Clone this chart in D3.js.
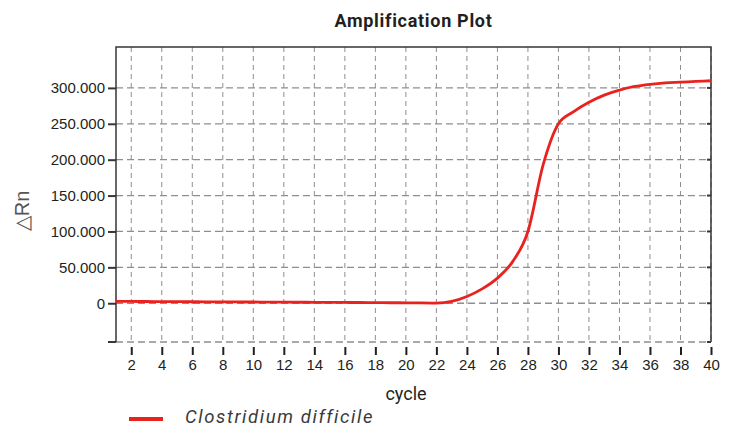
<!DOCTYPE html>
<html>
<head>
<meta charset="utf-8">
<script src="https://cdn.jsdelivr.net/npm/d3@7"></script>
<style>
  body { margin: 0; background: #fff; }
  svg text { font-family: "Liberation Sans", Arial, sans-serif; }
</style>
</head>
<body>
<div id="chart"></div>
<script>
// cycle numbers and delta Rn
var cycles = [1, 2, 3, 4, 5, 6, 7, 8, 9, 10, 11, 12, 13, 14, 15, 16, 17, 18, 19, 20,
              21, 22, 23, 24, 25, 26, 27, 28, 29, 30, 31, 32, 33, 34, 35, 36, 37, 38, 39, 40];
var deltaRn = [2.6, 2.5, 2.4, 2.3, 2.2, 2.1, 2.0, 1.9, 1.8, 1.7, 1.6, 1.5, 1.4, 1.3, 1.2, 1.1, 1.0, 0.9, 0.7, 0.6,
               0.4, 0.2, 2.5, 9.5, 20, 35, 58, 100, 193, 250, 267, 280, 290, 297, 302, 305, 307, 308, 309, 310];
var xTicks = [2, 4, 6, 8, 10, 12, 14, 16, 18, 20, 22, 24, 26, 28, 30, 32, 34, 36, 38, 40];
var yTicks = [0, 50, 100, 150, 200, 250, 300];
var seriesName = "Clostridium difficile";

var width = 733, height = 427;
var margin = {top: 47, right: 22, bottom: 85, left: 116};
var plotW = width - margin.left - margin.right,
    plotH = height - margin.top - margin.bottom;

var svg = d3.select("#chart").append("svg")
  .attr("width", width)
  .attr("height", height);

var x = d3.scaleLinear().domain([1, 40]).range([0, plotW]);
var y = d3.scaleLinear().domain([-54, 357]).range([plotH, 0]);

var g = svg.append("g")
  .attr("transform", "translate(" + margin.left + "," + margin.top + ")");

var gridColor = "#8e8e8e", frameColor = "#3b3434";

// grid
g.selectAll("line.vgrid")
    .data(xTicks)
  .enter().append("line")
    .attr("class", "vgrid")
    .attr("x1", d => x(d)).attr("x2", d => x(d))
    .attr("y1", 0).attr("y2", plotH)
    .attr("stroke", gridColor)
    .attr("stroke-width", 1)
    .attr("stroke-dasharray", "5,4");

g.selectAll("line.hgrid")
    .data(yTicks)
  .enter().append("line")
    .attr("class", "hgrid")
    .attr("x1", 0).attr("x2", plotW)
    .attr("y1", d => y(d)).attr("y2", d => y(d))
    .attr("stroke", gridColor)
    .attr("stroke-width", 1.3)
    .attr("stroke-dasharray", "7,4");

// bottom edge is a dashed line
g.append("line")
  .attr("x1", 0).attr("x2", plotW)
  .attr("y1", plotH).attr("y2", plotH)
  .attr("stroke", gridColor)
  .attr("stroke-width", 1.3)
  .attr("stroke-dasharray", "7,4");

// frame: left, top, right
g.append("path")
  .attr("d", "M0," + plotH + "V0H" + plotW + "V" + plotH)
  .attr("fill", "none")
  .attr("stroke", frameColor)
  .attr("stroke-width", 1.5);

// y axis
var yAxis = d3.axisLeft(y)
  .tickValues(yTicks)
  .tickSize(8)
  .tickPadding(3)
  .tickFormat(d => d === 0 ? "0" : d3.format(".3f")(d));

var yg = g.append("g").call(yAxis);
yg.select(".domain").remove();
yg.selectAll(".tick line").attr("stroke", frameColor).attr("stroke-width", 2);
yg.selectAll(".tick text")
  .attr("fill", "#231f20")
  .style("font-size", "15px");

// left tick at the bottom corner
g.append("line")
  .attr("x1", -8).attr("x2", 0)
  .attr("y1", plotH).attr("y2", plotH)
  .attr("stroke", frameColor).attr("stroke-width", 2);

// right-side inner ticks
g.selectAll("line.rtick")
    .data(yTicks)
  .enter().append("line")
    .attr("x1", plotW - 4).attr("x2", plotW)
    .attr("y1", d => y(d)).attr("y2", d => y(d))
    .attr("stroke", frameColor).attr("stroke-width", 2);
g.append("line")
  .attr("x1", plotW - 4).attr("x2", plotW)
  .attr("y1", plotH).attr("y2", plotH)
  .attr("stroke", frameColor).attr("stroke-width", 2);

// x axis, ticks sit a little below the frame
var xAxis = d3.axisBottom(x)
  .tickValues(xTicks)
  .tickSize(8)
  .tickPadding(4);

var xg = g.append("g")
  .attr("transform", "translate(0," + (plotH + 5) + ")")
  .call(xAxis);
xg.select(".domain").remove();
xg.selectAll(".tick line").attr("stroke", "#231f20").attr("stroke-width", 2);
xg.selectAll(".tick text")
  .attr("fill", "#231f20")
  .style("font-size", "15px");

// curve
var line = d3.line()
  .x((d, i) => x(cycles[i]))
  .y(d => y(d))
  .curve(d3.curveMonotoneX);

g.append("path")
  .datum(deltaRn)
  .attr("d", line)
  .attr("fill", "none")
  .attr("stroke", "#e8231f")
  .attr("stroke-width", 2.8);

// title
svg.append("text")
  .attr("x", margin.left + plotW / 2)
  .attr("y", 27)
  .attr("text-anchor", "middle")
  .style("font-family", "Roboto, sans-serif")
  .style("font-weight", "bold")
  .style("font-size", "18px")
  .style("letter-spacing", "0.7px")
  .attr("fill", "#231f20")
  .text("Amplification Plot");

// axis titles
svg.append("text")
  .attr("x", 406)
  .attr("y", 400)
  .attr("text-anchor", "middle")
  .style("font-family", "Roboto, sans-serif")
  .style("font-size", "18px")
  .attr("fill", "#231f20")
  .text("cycle");

svg.append("text")
  .attr("transform", "translate(29,211) rotate(-90)")
  .attr("text-anchor", "middle")
  .style("font-size", "20px")
  .attr("fill", "#555")
  .text("\u25B3Rn");

// legend
svg.append("line")
  .attr("x1", 129).attr("x2", 163)
  .attr("y1", 419).attr("y2", 419)
  .attr("stroke", "#e8231f")
  .attr("stroke-width", 4);

svg.append("text")
  .attr("x", 185)
  .attr("y", 423)
  .style("font-family", "Roboto, sans-serif")
  .style("font-style", "italic")
  .style("font-size", "18.5px")
  .style("letter-spacing", "1.6px")
  .attr("fill", "#3a3a3a")
  .text(seriesName);
</script>
</body>
</html>
